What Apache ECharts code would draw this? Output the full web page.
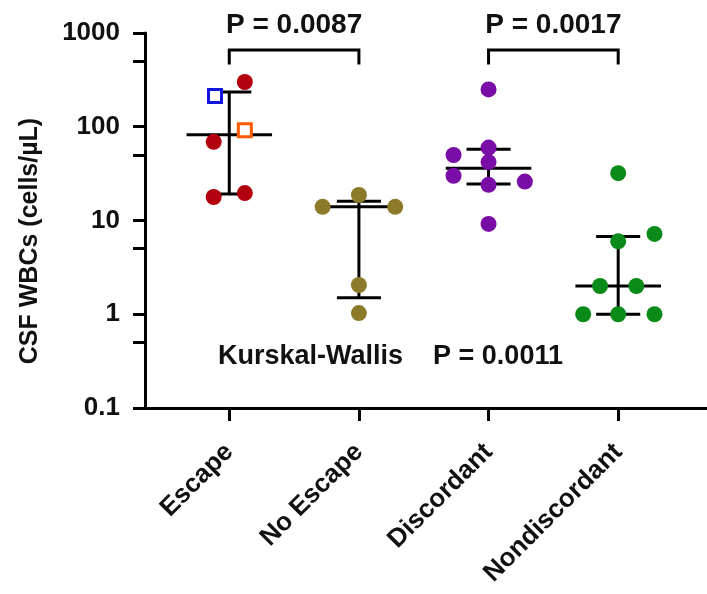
<!DOCTYPE html>
<html>
<head>
<meta charset="utf-8">
<script src="https://cdn.jsdelivr.net/npm/echarts@6/dist/echarts.min.js"></script>
<style>
  html, body { margin: 0; padding: 0; background: #fff; }
  #chart { width: 707px; height: 594px; }
</style>
</head>
<body>
<div id="chart"></div>
<script type="text/javascript">
    // groups on the x axis
    var groups = ['Escape', 'No Escape', 'Discordant', 'Nondiscordant'];

    // CSF WBCs per patient (cells/uL), with the horizontal spread of each dot (in group units)
    var escapeVals = [300, 69, 19.6, 17.8];
    var escapeJit = [0.12, -0.12, 0.12, -0.12];
    var escapeBlueVals = [213];
    var escapeBlueJit = [-0.11];
    var escapeOrangeVals = [92];
    var escapeOrangeJit = [0.12];
    var noEscapeVals = [18.7, 14, 14, 2.05, 1.03];
    var noEscapeJit = [0, -0.28, 0.28, 0, 0];
    var discordantVals = [250, 60, 50, 42, 30, 26, 24, 9.2];
    var discordantJit = [0, 0, -0.27, 0, -0.27, 0.28, 0, 0];
    var nondiscVals = [32, 7.2, 6, 2, 2, 1, 1, 1];
    var nondiscJit = [0, 0.28, 0, -0.14, 0.14, -0.27, 0, 0.28];

    // median and interquartile range
    var medians = [82, 14, 36, 2];
    var q1 = [19.2, 1.5, 24.5, 1];
    var q3 = [235, 16, 57.5, 6.75];

    // axis ticks
    var yTicks = [0.1, 1, 10, 100, 1000];
    var yMinorTicks = [0.5, 5, 50, 500];

    // comparisons
    var bracketFrom = [0, 2];
    var bracketTo = [1, 3];
    var bracketP = ['P = 0.0087', 'P = 0.0017'];
    var bracketTop = 660;
    var bracketFoot = 460;

    var FONT = '"Liberation Sans", Arial, sans-serif';

    function pts(vals, jit, idx) {
        var out = [];
        for (var i = 0; i < vals.length; i++) out.push([idx + jit[i], vals[i]]);
        return out;
    }

    var chart = echarts.init(document.getElementById('chart'));

    var option = {
        animation: false,
        backgroundColor: '#fff',
        grid: { left: 145, top: 33, right: 0, bottom: 186 },
        xAxis: {
            type: 'value',
            min: -0.65,
            max: 3.685,
            splitLine: { show: false },
            axisLine: { show: true, onZero: false, lineStyle: { color: '#000', width: 3 } },
            axisTick: { show: true, customValues: [0, 1, 2, 3], length: 13, lineStyle: { color: '#000', width: 3 } },
            axisLabel: {
                customValues: [0, 1, 2, 3],
                rotate: 45,
                margin: 40,
                color: '#111',
                fontFamily: FONT,
                fontWeight: 'bold',
                fontSize: 26,
                formatter: function (v) { return groups[Math.round(v)]; }
            }
        },
        yAxis: {
            type: 'log',
            logBase: 10,
            min: 0.1,
            max: 1000,
            splitLine: { show: false },
            axisLine: { show: true, onZero: false, lineStyle: { color: '#000', width: 3 } },
            axisTick: { show: true, customValues: yTicks.concat(yMinorTicks), length: 12, lineStyle: { color: '#000', width: 3 } },
            axisLabel: {
                customValues: yTicks,
                margin: 25,
                color: '#111',
                fontFamily: FONT,
                fontWeight: 'bold',
                fontSize: 26,
                formatter: function (v) { return v < 1 ? '0.1' : String(Math.round(v)); }
            }
        },
        graphic: [
            {
                type: 'text',
                x: 30, y: 241,
                rotation: Math.PI / 2,
                style: {
                    text: 'CSF WBCs (cells/µL)',
                    font: 'bold 25px ' + FONT,
                    fill: '#111',
                    align: 'center',
                    verticalAlign: 'middle'
                }
            },
            {
                type: 'text',
                left: 218, top: 343,
                style: {
                    text: 'Kurskal-Wallis    P = 0.0011',
                    font: 'bold 27px ' + FONT,
                    fill: '#111'
                }
            }
        ],
        series: [
            {
                // median + IQR bars
                type: 'custom',
                z: 1,
                data: groups.map(function (g, i) { return [i, medians[i], q1[i], q3[i]]; }),
                renderItem: function (params, api) {
                    var x = api.value(0);
                    var pm = api.coord([x, api.value(1)]);
                    var pl = api.coord([x, api.value(2)]);
                    var ph = api.coord([x, api.value(3)]);
                    var unit = api.coord([x + 1, api.value(1)])[0] - pm[0];
                    var mw = unit * 0.33, cw = unit * 0.17;
                    function seg(x1, y1, x2, y2) {
                        return { type: 'line', shape: { x1: x1, y1: y1, x2: x2, y2: y2 },
                                 style: { stroke: '#000', lineWidth: 3 } };
                    }
                    return {
                        type: 'group',
                        children: [
                            seg(pm[0], pl[1], pm[0], ph[1]),
                            seg(pm[0] - mw, pm[1], pm[0] + mw, pm[1]),
                            seg(pm[0] - cw, pl[1], pm[0] + cw, pl[1]),
                            seg(pm[0] - cw, ph[1], pm[0] + cw, ph[1])
                        ]
                    };
                }
            },
            {
                // comparison brackets
                type: 'custom',
                z: 1,
                clip: false,
                data: bracketFrom.map(function (a, i) { return [a, bracketTo[i], bracketTop, bracketFoot]; }),
                renderItem: function (params, api) {
                    var a = api.coord([api.value(0), api.value(2)]);
                    var b = api.coord([api.value(1), api.value(2)]);
                    var f = api.coord([api.value(0), api.value(3)]);
                    return {
                        type: 'group',
                        children: [
                            { type: 'polyline', shape: { points: [[a[0], f[1]], a, b, [b[0], f[1]]] },
                              style: { stroke: '#000', lineWidth: 3, fill: null } },
                            { type: 'text', x: (a[0] + b[0]) / 2, y: a[1] - 11,
                              style: { text: bracketP[params.dataIndex], font: 'bold 28px ' + FONT,
                                       fill: '#111', align: 'center', verticalAlign: 'bottom' } }
                        ]
                    };
                }
            },
            {
                name: 'Escape', type: 'scatter', z: 3, symbolSize: 16,
                itemStyle: { color: '#B3000F', opacity: 1 },
                data: pts(escapeVals, escapeJit, 0)
            },
            {
                name: 'Escape blue', type: 'scatter', z: 3, symbol: 'rect', symbolSize: 13,
                itemStyle: { color: '#fff', borderColor: '#1414DC', borderWidth: 3, opacity: 1 },
                data: pts(escapeBlueVals, escapeBlueJit, 0)
            },
            {
                name: 'Escape orange', type: 'scatter', z: 3, symbol: 'rect', symbolSize: 13,
                itemStyle: { color: '#fff', borderColor: '#FF5A00', borderWidth: 3, opacity: 1 },
                data: pts(escapeOrangeVals, escapeOrangeJit, 0)
            },
            {
                name: 'No Escape', type: 'scatter', z: 3, symbolSize: 16,
                itemStyle: { color: '#8C7A2A', opacity: 1 },
                data: pts(noEscapeVals, noEscapeJit, 1)
            },
            {
                name: 'Discordant', type: 'scatter', z: 3, symbolSize: 16,
                itemStyle: { color: '#7A0DA6', opacity: 1 },
                data: pts(discordantVals, discordantJit, 2)
            },
            {
                name: 'Nondiscordant', type: 'scatter', z: 3, symbolSize: 16,
                itemStyle: { color: '#0A8A18', opacity: 1 },
                data: pts(nondiscVals, nondiscJit, 3)
            }
        ]
    };

    chart.setOption(option);
</script>
</body>
</html>
